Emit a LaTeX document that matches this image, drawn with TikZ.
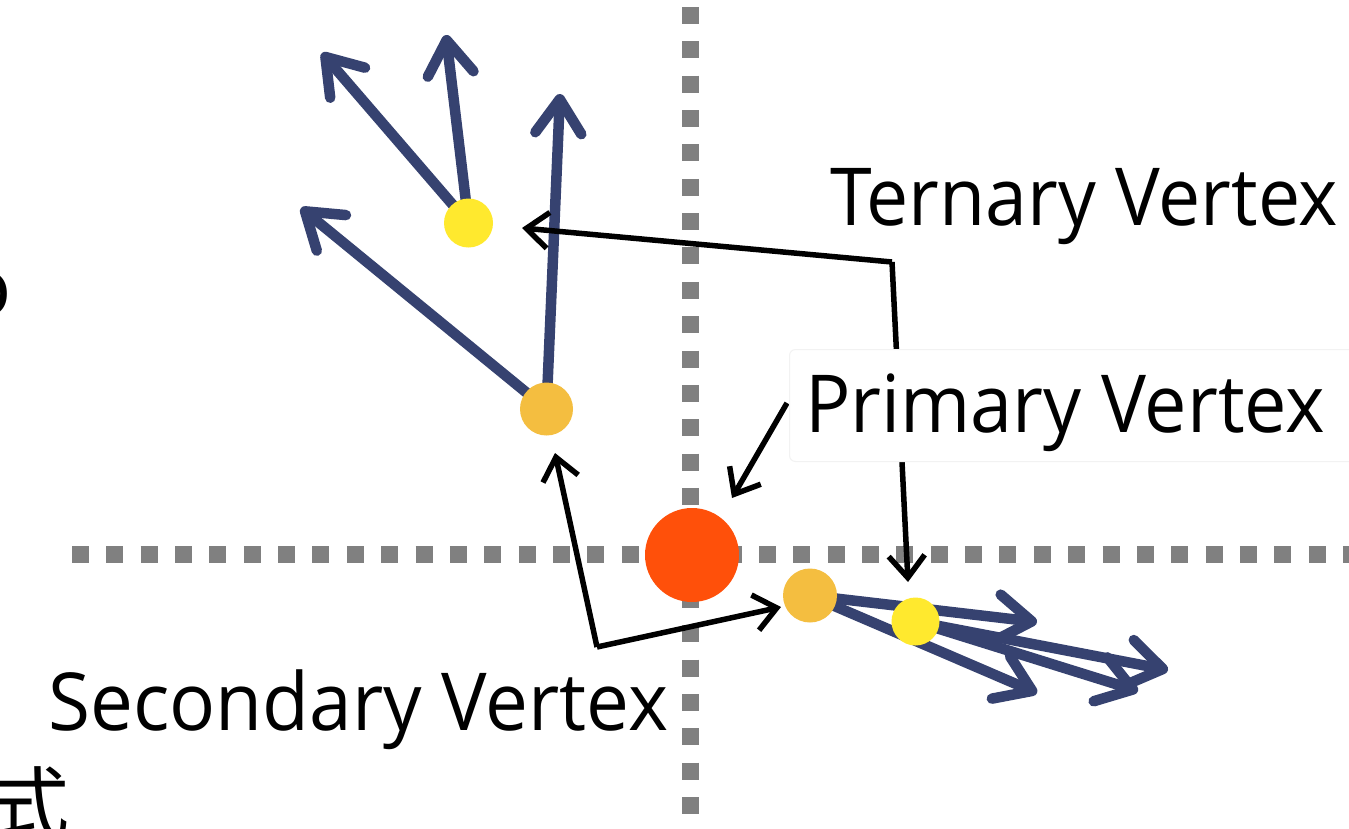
\documentclass[tikz,border=0pt]{standalone}
\usepackage{fontspec}
\setmainfont{Open Sans}
\newfontfamily\cjkfont{Noto Sans CJK SC}
\usetikzlibrary{arrows.meta}
\definecolor{trackblue}{RGB}{54,66,112}
\definecolor{pvred}{RGB}{255,80,10}
\definecolor{svorange}{RGB}{244,190,64}
\definecolor{tvyellow}{RGB}{255,233,46}
\definecolor{dotgray}{RGB}{128,128,128}
\newcommand{\labelfont}{\fontsize{80}{90}\selectfont}
\begin{document}
\begin{tikzpicture}[x=1pt,y=-1pt,
  axisline/.style={draw=dotgray, line width=17pt, line cap=butt, dash pattern=on 17pt off 17.35pt},
  track/.style={draw=trackblue, line width=10.5pt, line cap=round, line join=round,
    -{Straight Barb[length=34pt,width=46pt,round]}},
  labelarrow/.style={draw=black, line width=5.5pt, line join=miter},
  labeltip/.style={-{Straight Barb[length=22pt,width=36pt]}},
  vertexdot/.style={circle, inner sep=0pt, draw=none},
  vlabel/.style={anchor=base west, inner sep=0pt, font=\labelfont}]
\useasboundingbox (0,0) rectangle (1349,828);
\clip (0,0) rectangle (1349,828);
\fill[white] (0,0) rectangle (1349,828);

% dotted axes
\coordinate (vtop) at (690.5,7);
\coordinate (vbot) at (690.5,840);
\coordinate (hleft) at (72,554);
\coordinate (hright) at (1360,554);
\draw[axisline] (vtop) -- (vbot);
\draw[axisline] (hleft) -- (hright);

% vertex positions
\coordinate (pvc) at (692,555);
\coordinate (sv1c) at (546.5,409);
\coordinate (tv1c) at (468.5,223);
\coordinate (sv2c) at (810,595.5);
\coordinate (tv2c) at (915.5,621.5);

% track ends
\coordinate (t1) at (560,94);
\coordinate (t2) at (301,208);
\coordinate (t3) at (446,35);
\coordinate (t4) at (322,53);
\coordinate (t5) at (1037,622);
\coordinate (t6) at (1037,693);
\coordinate (t7) at (1168,670);
\coordinate (t8) at (1138,691);

\draw[track] (sv1c) -- (t1);
\draw[track] (sv1c) -- (t2);
\draw[track] (tv1c) -- (t3);
\draw[track] (tv1c) -- (t4);
\draw[track] (sv2c) -- (t5);
\draw[track] (sv2c) -- (t6);
\draw[track] (tv2c) -- (t7);
\draw[track] (tv2c) -- (t8);

% vertices
\node[vertexdot, fill=pvred, minimum size=94pt] (pv) at (pvc) {};
\node[vertexdot, fill=svorange, minimum size=53pt] (sv1) at (sv1c) {};
\node[vertexdot, fill=tvyellow, minimum size=49pt] (tv1) at (tv1c) {};
\node[vertexdot, fill=svorange, minimum size=54pt] (sv2) at (sv2c) {};
\node[vertexdot, fill=tvyellow, minimum size=48pt] (tv2) at (tv2c) {};

% label arrows
\coordinate (tcorner) at (892,262);
\coordinate (ttip1) at (522,228);
\coordinate (ttip2) at (908,582);
\draw[labelarrow, labeltip] (tcorner) -- (ttip1);
\draw[labelarrow, labeltip] (tcorner) -- (ttip2);

\coordinate (pstart) at (787,403);
\coordinate (ptip) at (732,498);
\draw[labelarrow, labeltip] (pstart) -- (ptip);

\coordinate (scorner) at (597,647);
\coordinate (stip1) at (555,453);
\coordinate (stip2) at (781,607);
\draw[labelarrow, labeltip] (scorner) -- (stip1);
\draw[labelarrow, labeltip] (scorner) -- (stip2);

% primary label box
\node[anchor=north west, fill=white, draw=black!5, line width=1pt, rounded corners=6pt,
  minimum width=580pt, minimum height=112pt, inner sep=0pt] (pbox) at (789,349) {};

% labels
\node[vlabel] (ternary) at (830,225) {\resizebox{508pt}{\height}{Ternary Vertex}};
\node[vlabel] (primary) at (805,432) {\resizebox{520pt}{\height}{Primary Vertex}};
\node[vlabel] (secondary) at (48,730) {\resizebox{620pt}{\height}{Secondary Vertex}};

% partial glyphs at the left edge
\node[anchor=base east, inner sep=0pt, font=\labelfont] (edgeo) at (12,315) {o};
\node[anchor=base east, inner sep=0pt, font=\labelfont\cjkfont] (edgecjk) at (70,833) {式};
\end{tikzpicture}
\end{document}
